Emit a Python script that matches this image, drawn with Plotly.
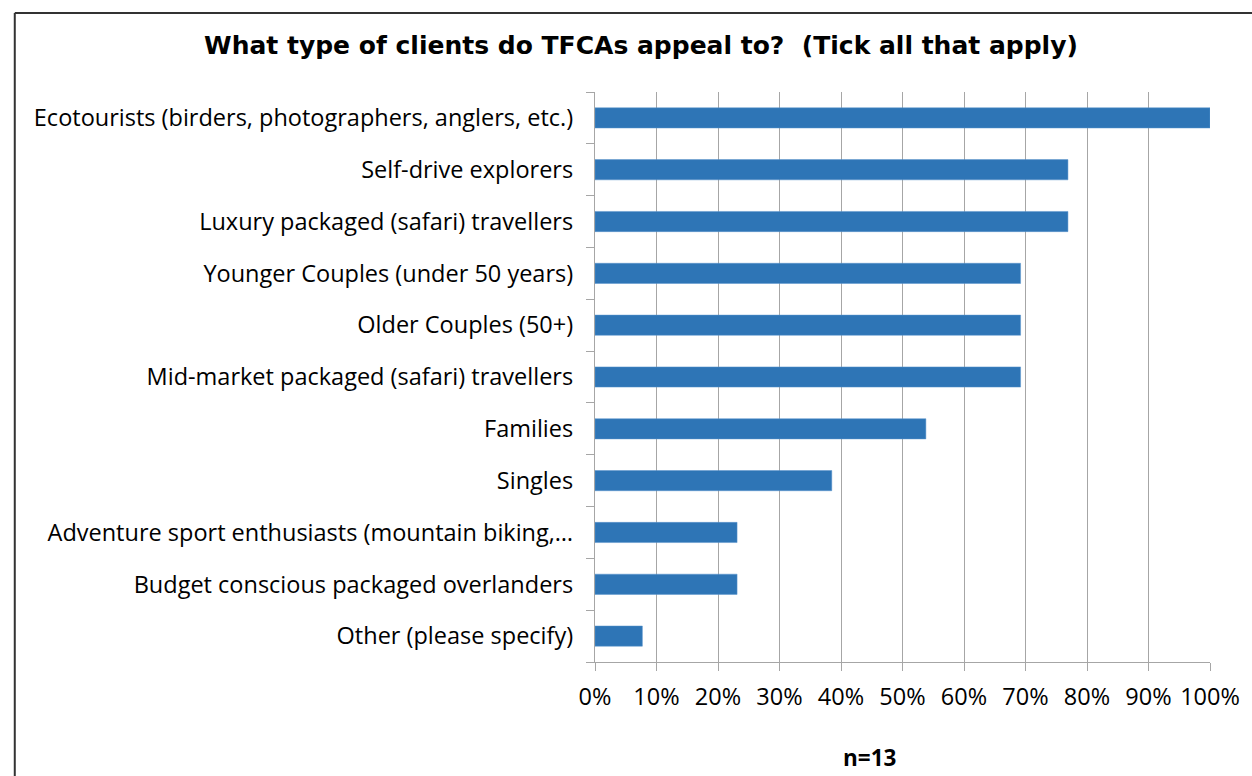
import plotly.graph_objects as go

# Survey responses (n=13), share of respondents ticking each client type
categories = [
    "Ecotourists (birders, photographers, anglers, etc.)",
    "Self-drive explorers",
    "Luxury packaged (safari) travellers",
    "Younger Couples (under 50 years)",
    "Older Couples (50+)",
    "Mid-market packaged (safari) travellers",
    "Families",
    "Singles",
    "Adventure sport enthusiasts (mountain biking,…",
    "Budget conscious packaged overlanders",
    "Other (please specify)",
]
shares = [100.0, 76.9, 76.9, 69.2, 69.2, 69.2, 53.8, 38.5, 23.1, 23.1, 7.7]
x_ticks = [0, 10, 20, 30, 40, 50, 60, 70, 80, 90, 100]
x_tick_text = [f"{v}%" for v in x_ticks]

W, H = 1252, 776
ML, MR, MT, MB = 595, 38, 92, 114
pw, ph = W - ML - MR, H - MT - MB

fig = go.Figure(go.Bar(
    x=shares,
    y=categories,
    orientation="h",
    width=0.39,
    marker=dict(color="#2E75B6", line=dict(color="#5b95cc", width=0.5)),
    hoverinfo="x+y",
))

label_font = dict(family="'Open Sans', sans-serif", size=23.5, color="#000000")

fig.update_layout(
    width=W, height=H,
    margin=dict(l=ML, r=MR, t=MT, b=MB, pad=0),
    paper_bgcolor="white", plot_bgcolor="white",
    showlegend=False,
    title=dict(
        text="What type of clients do TFCAs appeal to?  (Tick all that apply)",
        x=641 / W, xanchor="center", y=1 - 45 / H, yanchor="middle",
        font=dict(family="'DejaVu Sans', sans-serif", size=25, color="#000000", weight="bold"),
    ),
    xaxis=dict(
        range=[0, 100],
        tickvals=x_ticks, ticktext=x_tick_text,
        showgrid=True, gridcolor="#a6a6a6", gridwidth=1.3,
        showline=True, linecolor="#a6a6a6", linewidth=1.3,
        ticks="outside", ticklen=8, tickcolor="#a6a6a6", tickwidth=1.3,
        tickfont=label_font, ticklabelstandoff=6,
        zeroline=False, fixedrange=True,
    ),
    yaxis=dict(
        categoryorder="array", categoryarray=categories[::-1],
        showline=True, linecolor="#a6a6a6", linewidth=1.3,
        ticks="outside", ticklen=8, tickcolor="#a6a6a6", tickwidth=1.3,
        tickson="boundaries",
        tickfont=label_font, ticklabelstandoff=16,
        showgrid=False, fixedrange=True,
    ),
    annotations=[dict(
        text="n=13", showarrow=False,
        xref="paper", yref="paper",
        x=(871 - ML) / pw, y=(H - MB - 757) / ph,
        xanchor="center", yanchor="middle",
        font=dict(family="'Open Sans', sans-serif", size=22.5, color="#000000", weight="bold"),
    )],
)

# Outer chart frame (top and left edges)
def px_x(px):
    return (px - ML) / pw

def px_y(py):
    return (H - MB - py) / ph

frame = dict(color="#333333", width=2)
fig.add_shape(type="line", xref="paper", yref="paper",
              x0=px_x(11), y0=px_y(13), x1=px_x(W + 5), y1=px_y(13), line=frame)
fig.add_shape(type="line", xref="paper", yref="paper",
              x0=px_x(11), y0=px_y(13), x1=px_x(11), y1=px_y(H + 5), line=frame)

fig.write_html("out.html")
